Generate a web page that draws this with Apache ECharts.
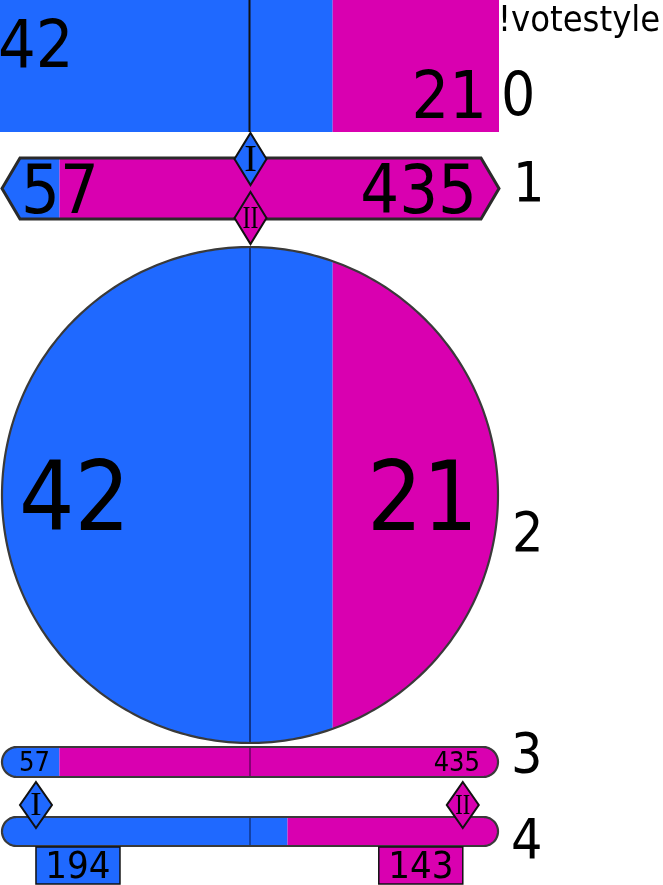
<!DOCTYPE html>
<html>
<head>
<meta charset="utf-8">
<script src="https://cdn.jsdelivr.net/npm/echarts@6/dist/echarts.min.js"></script>
<style>
  html, body { margin: 0; padding: 0; background: #ffffff; }
  #chart { width: 663px; height: 885px; }
</style>
</head>
<body>
<div id="chart"></div>
<script>
// ---- data ----
const rowNames = ['0', '1', '2', '3', '4'];
const blueVotes = [42, 57, 42, 57, 194];
const pinkVotes = [21, 435, 21, 435, 143];
const rowLabelsBlue = ['42', '57', '42', '57', '194'];
const rowLabelsPink = ['21', '435', '21', '435', '143'];
const markerLabels = ['I', 'II'];
const titleText = '!votestyle';

// ---- styles / layout ----
const BLUE = '#1f69ff';
const PINK = '#d900b0';
const SANS = '"DejaVu Sans Condensed", "DejaVu Sans", sans-serif';
const SERIF = '"Liberation Serif", "DejaVu Serif", serif';
const shapes = ['rect', 'hex', 'circle', 'pill', 'pill'];
const grids = [
  { left: 0, top: 0, width: 499, height: 132 },
  { left: 2, top: 158, width: 497, height: 61 },
  { left: 2, top: 247, width: 496, height: 496 },
  { left: 2, top: 747, width: 496, height: 30 },
  { left: 2, top: 817, width: 496, height: 29 }
];

function clipStrip(poly, xa, xc) {
  function clip(pts, inside, inter) {
    const out = [];
    for (let k = 0; k < pts.length; k++) {
      const cur = pts[k], prev = pts[(k + pts.length - 1) % pts.length];
      const ci = inside(cur), pi = inside(prev);
      if (ci) { if (!pi) out.push(inter(prev, cur)); out.push(cur); }
      else if (pi) out.push(inter(prev, cur));
    }
    return out;
  }
  const ix = (x) => (a, b) => {
    const t = (x - a[0]) / (b[0] - a[0]);
    return [x, a[1] + t * (b[1] - a[1])];
  };
  let r = clip(poly, p => p[0] >= xa, ix(xa));
  r = clip(r, p => p[0] <= xc, ix(xc));
  return r;
}

function outline(kind, L, R, T, B) {
  const cy = (T + B) / 2;
  if (kind === 'rect') return [[L, T], [R, T], [R, B], [L, B]];
  if (kind === 'hex') {
    const d = 18;
    return [[L, cy], [L + d, T], [R - d, T], [R, cy], [R - d, B], [L + d, B]];
  }
  const pts = [];
  if (kind === 'circle') {
    const cx = (L + R) / 2, r = (R - L) / 2;
    for (let k = 0; k < 360; k++) {
      const a = k / 360 * Math.PI * 2;
      pts.push([cx + r * Math.cos(a), cy + r * Math.sin(a)]);
    }
    return pts;
  }
  // pill
  const r = (B - T) / 2;
  for (let k = 0; k <= 40; k++) {
    const a = -Math.PI / 2 + k / 40 * Math.PI;
    pts.push([R - r + r * Math.cos(a), cy + r * Math.sin(a)]);
  }
  for (let k = 0; k <= 40; k++) {
    const a = Math.PI / 2 + k / 40 * Math.PI;
    pts.push([L + r + r * Math.cos(a), cy + r * Math.sin(a)]);
  }
  return pts;
}

// y is the wanted centre of the digits' cap height
function txt(text, x, y, size, align, font, sx) {
  return {
    type: 'text', x: x, y: y + 0.075 * size, silent: true, scaleX: sx || 1,
    style: { text: text, fill: '#000', font: 'normal ' + size + 'px ' + (font || SANS), align: align, verticalAlign: 'middle' }
  };
}

function diamond(cx, cy, hw, hh, fill, label, fs, sx) {
  return [
    { type: 'polygon', shape: { points: [[cx, cy - hh], [cx + hw, cy], [cx, cy + hh], [cx - hw, cy]] },
      style: { fill: fill, stroke: '#111', lineWidth: 2 } },
    txt(label, cx, cy - 1, fs, 'center', SERIF, sx)
  ];
}

function makeRender(i) {
  return function (params, api) {
    const b = api.value(0), p = api.value(1), tot = b + p;
    const L = api.coord([0, 0])[0], R = api.coord([tot, 0])[0];
    const xb = api.coord([b, 0])[0], xm = api.coord([tot / 2, 0])[0];
    const T = api.coord([0, 1])[1], B = api.coord([0, 0])[1];
    const kind = shapes[i];
    const poly = outline(kind, L, R, T, B);
    const ch = [];
    ch.push({ type: 'polygon', shape: { points: clipStrip(poly, L - 1, xb) }, style: { fill: BLUE } });
    ch.push({ type: 'polygon', shape: { points: clipStrip(poly, xb, R + 1) }, style: { fill: PINK } });
    if (kind === 'rect') {
      ch.push({ type: 'line', shape: { x1: xm, y1: T, x2: xm, y2: B }, style: { stroke: '#111', lineWidth: 2 } });
      ch.push(txt(rowLabelsBlue[i], L - 2, T + 45, 66, 'left'));
      ch.push(txt(rowLabelsPink[i], R - 12, T + 96, 66, 'right'));
      ch.push(txt(rowNames[i], R + 2, T + 95, 60, 'left'));
    } else if (kind === 'hex') {
      ch.push({ type: 'polygon', shape: { points: poly }, style: { fill: 'none', stroke: '#2a2a2a', lineWidth: 3 } });
      ch.push(txt(rowLabelsBlue[i], L + 19, (T + B) / 2 + 2, 68, 'left'));
      ch.push(txt(rowLabelsPink[i], R - 22, (T + B) / 2 + 2, 68, 'right'));
      ch.push.apply(ch, diamond(xm, T + 1, 16, 26, BLUE, markerLabels[0], 38, 1));
      ch.push.apply(ch, diamond(xm, B - 1, 16, 26, PINK, markerLabels[1], 32, 0.75));
      ch.push(txt(rowNames[i], R + 14, (T + B) / 2 - 6, 55, 'left'));
    } else if (kind === 'circle') {
      ch.push({ type: 'line', shape: { x1: xm, y1: T, x2: xm, y2: B }, style: { stroke: 'rgba(0,0,20,0.5)', lineWidth: 2 } });
      ch.push({ type: 'polygon', shape: { points: poly }, style: { fill: 'none', stroke: '#3a3a3a', lineWidth: 2.2 } });
      ch.push(txt(rowLabelsBlue[i], L + 17, (T + B) / 2 + 3, 97, 'left'));
      ch.push(txt(rowLabelsPink[i], R - 20, (T + B) / 2 + 3, 97, 'right'));
      ch.push(txt(rowNames[i], R + 14, (T + B) / 2 + 38, 55, 'left'));
    } else {
      ch.push({ type: 'line', shape: { x1: xm, y1: T, x2: xm, y2: B }, style: { stroke: 'rgba(0,0,20,0.5)', lineWidth: 1.5 } });
      ch.push({ type: 'polygon', shape: { points: poly }, style: { fill: 'none', stroke: '#3a3a3a', lineWidth: 2.2 } });
      ch.push(txt(rowNames[i], R + 13, (T + B) / 2 + (i === 3 ? -8 : 8), 55, 'left'));
      if (i === 3) {
        ch.push(txt(rowLabelsBlue[i], L + 17, (T + B) / 2, 27, 'left'));
        ch.push(txt(rowLabelsPink[i], R - 18, (T + B) / 2, 27, 'right'));
      } else {
        const dI = L + 0.0685 * (R - L), dII = L + 0.929 * (R - L);
        const bw = 84, bt = B + 1, bh = 37;
        ch.push({ type: 'rect', shape: { x: dI, y: bt, width: bw, height: bh }, style: { fill: BLUE, stroke: '#111', lineWidth: 1.5 } });
        ch.push({ type: 'rect', shape: { x: dII - bw, y: bt, width: bw, height: bh }, style: { fill: PINK, stroke: '#111', lineWidth: 1.5 } });
        ch.push(txt(rowLabelsBlue[i], dI + bw / 2, bt + bh / 2, 38, 'center'));
        ch.push(txt(rowLabelsPink[i], dII - bw / 2, bt + bh / 2, 38, 'center'));
        ch.push.apply(ch, diamond(dI, T - 12, 16, 23, BLUE, markerLabels[0], 34, 1));
        ch.push.apply(ch, diamond(dII, T - 12, 16, 23, PINK, markerLabels[1], 30, 0.75));
      }
    }
    return { type: 'group', children: ch };
  };
}

const chart = echarts.init(document.getElementById('chart'), null, { renderer: 'canvas' });
const option = {
  animation: false,
  backgroundColor: '#ffffff',
  title: {
    text: titleText, left: 498, top: 4, padding: 0,
    textStyle: { fontFamily: SANS, fontSize: 36, fontWeight: 'normal', color: '#000' }
  },
  grid: grids.map(g => Object.assign({ containLabel: false }, g)),
  xAxis: grids.map((g, i) => ({ gridIndex: i, type: 'value', min: 0, max: blueVotes[i] + pinkVotes[i], show: false })),
  yAxis: grids.map((g, i) => ({ gridIndex: i, type: 'value', min: 0, max: 1, show: false })),
  series: rowNames.map((n, i) => ({
    type: 'custom',
    name: 'row ' + n,
    xAxisIndex: i, yAxisIndex: i,
    clip: false,
    encode: { x: 0, y: 1 },
    renderItem: makeRender(i),
    data: [[blueVotes[i], pinkVotes[i]]]
  }))
};
chart.setOption(option);
</script>
</body>
</html>
